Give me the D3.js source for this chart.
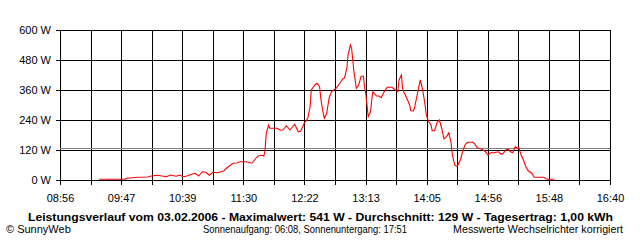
<!DOCTYPE html>
<html>
<head>
<meta charset="utf-8">
<script src="https://cdn.jsdelivr.net/npm/d3@7"></script>
<style>
  body { margin: 0; background: #fff; }
  svg text { font-family: "Liberation Sans", Arial, sans-serif; font-size: 11px; fill: #000; }
</style>
</head>
<body>
<div id="chart"></div>
<script>
// measured power, time of day -> watts
var times = ["9:29","9:51","9:52","10:02","10:10","10:13","10:18","10:26","10:29","10:34",
  "10:37","10:40","10:43","10:47","10:50","10:53","10:56","10:59","11:02","11:05",
  "11:09","11:14","11:18","11:22","11:25","11:28","11:33","11:38","11:40","11:43",
  "11:46","11:48","11:49","11:50","11:52","11:53","11:59","12:02","12:04","12:07",
  "12:10","12:14","12:17","12:19","12:22","12:25","12:27","12:28","12:31","12:33",
  "12:35","12:36","12:38","12:39","12:41","12:43","12:45","12:47","12:49","12:52",
  "12:55","12:56","12:58","12:59","13:01","13:02","13:03","13:04","13:06","13:08",
  "13:10","13:12","13:13","13:14","13:15","13:16","13:18","13:19","13:20","13:23",
  "13:25","13:27","13:29","13:32","13:36","13:39","13:41","13:42","13:44","13:45",
  "13:46","13:48","13:51","13:52","13:54","13:55","13:57","13:59","14:00","14:02",
  "14:04","14:05","14:07","14:09","14:10","14:12","14:14","14:16","14:18","14:20",
  "14:22","14:24","14:26","14:27","14:29","14:31","14:32","14:34","14:36","14:38",
  "14:40","14:44","14:46","14:48","14:52","14:55","14:57","14:59","15:02","15:04",
  "15:06","15:08","15:10","15:12","15:14","15:16","15:18","15:20","15:22","15:23",
  "15:25","15:27","15:29","15:31","15:34","15:36","15:44","15:47","15:53"];
var watts = [3,3,7,11,12,16,19,13,20,15,
  20,13,16,23,27,16,33,31,19,31,
  29,36,53,67,68,73,73,67,80,96,
  99,96,120,187,220,207,207,199,200,217,
  200,223,193,195,227,247,293,360,380,387,
  373,327,267,247,267,327,353,360,367,387,
  407,408,447,500,540,527,480,433,367,380,
  415,415,370,344,300,253,274,320,353,336,
  336,329,349,371,371,360,353,400,420,367,
  353,333,300,277,276,287,333,380,400,360,
  300,260,233,220,197,197,229,240,207,164,
  173,189,147,100,60,53,63,83,120,143,
  151,151,144,129,123,113,100,109,109,111,
  113,103,107,120,123,113,109,133,127,131,
  100,80,53,37,27,11,11,3,3];

var yTicks = [0, 120, 240, 360, 480, 600];
var xTickLabels = ["08:56","09:47","10:39","11:30","12:22","13:13","14:05","14:56","15:48","16:40"];
var average = 129;

var titleText = "Leistungsverlauf vom 03.02.2006 - Maximalwert: 541 W - Durchschnitt: 129 W - Tagesertrag: 1,00 kWh";
var footLeft = "\u00A9 SunnyWeb";
var footMid = "Sonnenaufgang: 06:08, Sonnenuntergang: 17:51";
var footRight = "Messwerte Wechselrichter korrigiert";

var margin = {top: 30, right: 30, bottom: 60, left: 60},
    width = 640 - margin.left - margin.right,
    height = 240 - margin.top - margin.bottom;

var parseTime = d3.timeParse("%H:%M");
var t0 = parseTime(xTickLabels[0]), t1 = parseTime(xTickLabels[xTickLabels.length - 1]);

var x = d3.scaleTime().domain([t0, t1]).range([0, width]);
var y = d3.scaleLinear().domain([0, 600]).range([height, 0]);

// 18 grid intervals, every second one labelled
var xTicks = d3.range(19).map(function(i) { return new Date(+t0 + i * (t1 - t0) / 18); });

var data = times.map(function(t, i) { return {t: parseTime(t), w: watts[i]}; });

var svg = d3.select("#chart").append("svg")
    .attr("width", 640)
    .attr("height", 240);

var g = svg.append("g")
    .attr("transform", "translate(" + margin.left + "," + margin.top + ")");

// grid
g.selectAll(".hgrid")
    .data(yTicks)
  .enter().append("line")
    .attr("x1", 0).attr("x2", width)
    .attr("y1", function(d) { return Math.round(y(d)) + 0.5; })
    .attr("y2", function(d) { return Math.round(y(d)) + 0.5; })
    .attr("stroke", "#000")
    .attr("shape-rendering", "crispEdges");

g.selectAll(".vgrid")
    .data(xTicks)
  .enter().append("line")
    .attr("y1", 0).attr("y2", height)
    .attr("x1", function(d) { return Math.round(x(d)) + 0.5; })
    .attr("x2", function(d) { return Math.round(x(d)) + 0.5; })
    .attr("stroke", "#000")
    .attr("shape-rendering", "crispEdges");

// average line
g.append("line")
    .attr("x1", 0).attr("x2", width)
    .attr("y1", Math.round(y(average)) + 0.5)
    .attr("y2", Math.round(y(average)) + 0.5)
    .attr("stroke", "#808080")
    .attr("shape-rendering", "crispEdges");

// axes
var yAxis = g.append("g")
    .call(d3.axisLeft(y).tickValues(yTicks).tickSize(4).tickPadding(5)
      .tickFormat(function(d) { return d + " W"; }));
var xAxis = g.append("g")
    .attr("transform", "translate(0," + height + ")")
    .call(d3.axisBottom(x).tickValues(xTicks).tickSize(5).tickPadding(9)
      .tickFormat(function(d, i) { return i % 2 === 0 ? xTickLabels[i / 2] : ""; }));

svg.selectAll(".domain").remove();
svg.selectAll(".tick line").attr("stroke", "#000").attr("shape-rendering", "crispEdges");
svg.selectAll(".tick text").attr("font-family", null).attr("font-size", null).attr("fill", "#000");

// power line
var line = d3.line()
    .x(function(d) { return x(d.t); })
    .y(function(d) { return y(d.w); });

g.append("path")
    .datum(data)
    .attr("fill", "none")
    .attr("stroke", "#ff0000")
    .attr("stroke-width", 1.1)
    .attr("d", line);

// captions
svg.append("text")
    .attr("x", 28).attr("y", 221)
    .attr("font-weight", "bold")
    .attr("textLength", 585)
    .attr("lengthAdjust", "spacingAndGlyphs")
    .text(titleText);

svg.append("text").attr("x", 6).attr("y", 233).text(footLeft);
svg.append("text").attr("x", 203).attr("y", 233)
    .attr("textLength", 204).attr("lengthAdjust", "spacingAndGlyphs").text(footMid);
svg.append("text").attr("x", 453).attr("y", 233)
    .attr("textLength", 170).attr("lengthAdjust", "spacingAndGlyphs").text(footRight);
</script>
</body>
</html>
